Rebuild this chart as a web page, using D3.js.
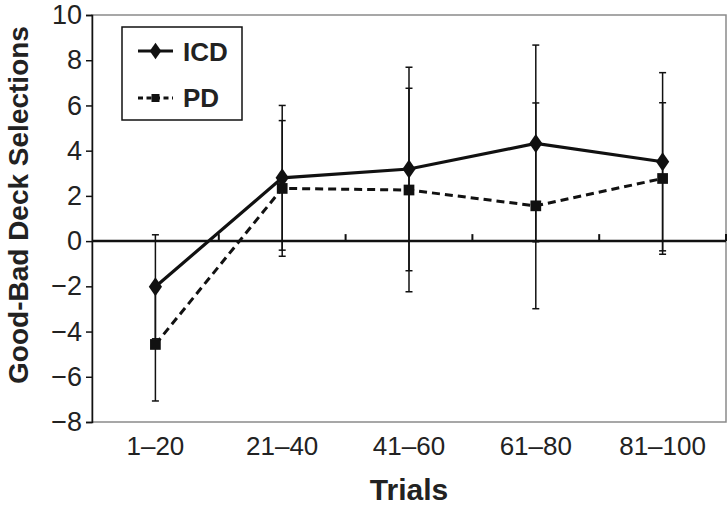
<!DOCTYPE html>
<html>
<head>
<meta charset="utf-8">
<script src="https://cdn.jsdelivr.net/npm/d3@7/dist/d3.min.js"></script>
<style>
  html, body { margin: 0; padding: 0; background: #fff; }
  svg { display: block; font-family: "Liberation Sans", Arial, Helvetica, sans-serif; }
</style>
</head>
<body>
<script>
const categories = ["1–20", "21–40", "41–60", "61–80", "81–100"];
const icdValues = [-2.02, 2.8, 3.19, 4.32, 3.51];
const icdErrors = [2.3, 3.2, 4.5, 4.35, 3.94];
const pdValues = [-4.57, 2.33, 2.26, 1.56, 2.77];
const pdErrors = [2.5, 3.0, 4.5, 4.55, 3.35];
const yTicks = [10, 8, 6, 4, 2, 0, -2, -4, -6, -8];
const seriesNames = ["ICD", "PD"];

const W = 727, H = 507;
const m = { left: 92, right: 1, top: 15, bottom: 85 };
const svg = d3.select("body").append("svg").attr("width", W).attr("height", H);

const x = d3.scaleBand().domain(categories).range([m.left, W - m.right]);
const y = d3.scaleLinear().domain([-8, 10]).range([H - m.bottom, m.top]);
const cx = c => x(c) + x.bandwidth() / 2;

// frame (gray)
svg.append("rect")
  .attr("x", m.left).attr("y", m.top)
  .attr("width", W - m.right - m.left).attr("height", y(-8) - m.top)
  .attr("fill", "none").attr("stroke", "#8a8a8a").attr("stroke-width", 1.5);

// y axis
const yAxis = d3.axisLeft(y).tickValues(yTicks).tickSize(6).tickPadding(4)
  .tickFormat(d => d < 0 ? "\u2212" + Math.abs(d) : String(d));
const gy = svg.append("g").attr("transform", `translate(${m.left},0)`).call(yAxis);
gy.select(".domain").attr("stroke", "#111").attr("stroke-width", 1.5);
gy.selectAll(".tick line").attr("stroke", "#111").attr("stroke-width", 1.5);
gy.selectAll(".tick text").attr("font-size", 27).attr("fill", "#222")
  .attr("font-family", "Liberation Sans, Arial, sans-serif");

// zero line with category-boundary ticks
const bounds = categories.map(c => x(c) + x.bandwidth());
svg.append("line")
  .attr("x1", m.left).attr("x2", W - m.right)
  .attr("y1", y(0)).attr("y2", y(0))
  .attr("stroke", "#111").attr("stroke-width", 2.5);
svg.selectAll(".zt").data(bounds).enter().append("line")
  .attr("x1", d => d).attr("x2", d => d)
  .attr("y1", y(0)).attr("y2", y(0) - 7)
  .attr("stroke", "#111").attr("stroke-width", 2);

// x category labels
svg.selectAll(".xl").data(categories).enter().append("text")
  .attr("x", d => cx(d)).attr("y", 455)
  .attr("text-anchor", "middle").attr("font-size", 26).attr("fill", "#222")
  .text(d => d);

// axis titles
svg.append("text").attr("x", cx(categories[2])).attr("y", 500)
  .attr("text-anchor", "middle").attr("font-size", 30).attr("font-weight", "bold")
  .attr("fill", "#222").text("Trials");
svg.append("text")
  .attr("transform", `translate(28,${(25 + 385) / 2}) rotate(-90)`)
  .attr("text-anchor", "middle").attr("font-size", 28).attr("font-weight", "bold")
  .attr("fill", "#222").text("Good-Bad Deck Selections");

// error bars
function errorBars(vals, errs) {
  const g = svg.append("g").attr("stroke", "#111").attr("stroke-width", 1.5);
  categories.forEach((c, i) => {
    const xc = cx(c), yt = y(vals[i] + errs[i]), yb = y(vals[i] - errs[i]);
    g.append("line").attr("x1", xc).attr("x2", xc).attr("y1", yt).attr("y2", yb);
    g.append("line").attr("x1", xc - 3.5).attr("x2", xc + 3.5).attr("y1", yt).attr("y2", yt);
    g.append("line").attr("x1", xc - 3.5).attr("x2", xc + 3.5).attr("y1", yb).attr("y2", yb);
  });
}
errorBars(icdValues, icdErrors);
errorBars(pdValues, pdErrors);

const line = d3.line().x((d, i) => cx(categories[i])).y(d => y(d));

// PD dashed
svg.append("path").datum(pdValues).attr("d", line)
  .attr("fill", "none").attr("stroke", "#111").attr("stroke-width", 3)
  .attr("stroke-dasharray", "8,5");
svg.selectAll(".pdm").data(pdValues).enter().append("path")
  .attr("d", d3.symbol(d3.symbolSquare, 115))
  .attr("transform", (d, i) => `translate(${cx(categories[i])},${y(d)})`)
  .attr("fill", "#111");

// ICD solid
svg.append("path").datum(icdValues).attr("d", line)
  .attr("fill", "none").attr("stroke", "#111").attr("stroke-width", 3.2);
svg.selectAll(".icm").data(icdValues).enter().append("path")
  .attr("d", d3.symbol(d3.symbolDiamond, 105))
  .attr("transform", (d, i) => `translate(${cx(categories[i])},${y(d)}) scale(1.2,1)`)
  .attr("fill", "#111");

// legend
const lg = svg.append("g");
lg.append("rect").attr("x", 122).attr("y", 27).attr("width", 120).attr("height", 93)
  .attr("fill", "#fff").attr("stroke", "#111").attr("stroke-width", 1.5);
lg.append("line").attr("x1", 138).attr("x2", 173).attr("y1", 51).attr("y2", 51)
  .attr("stroke", "#111").attr("stroke-width", 3.2);
lg.append("path").attr("d", d3.symbol(d3.symbolDiamond, 80))
  .attr("transform", "translate(155.5,51) scale(1.2,1)").attr("fill", "#111");
lg.append("line").attr("x1", 138).attr("x2", 173).attr("y1", 98).attr("y2", 98)
  .attr("stroke", "#111").attr("stroke-width", 3).attr("stroke-dasharray", "5,3.5");
lg.append("path").attr("d", d3.symbol(d3.symbolSquare, 64))
  .attr("transform", "translate(155.5,98)").attr("fill", "#111");
lg.selectAll(".lt").data(seriesNames).enter().append("text")
  .attr("x", 183).attr("y", (d, i) => 61 + i * 46)
  .attr("font-size", 26).attr("font-weight", "bold").attr("fill", "#222")
  .text(d => d);
</script>
</body>
</html>
